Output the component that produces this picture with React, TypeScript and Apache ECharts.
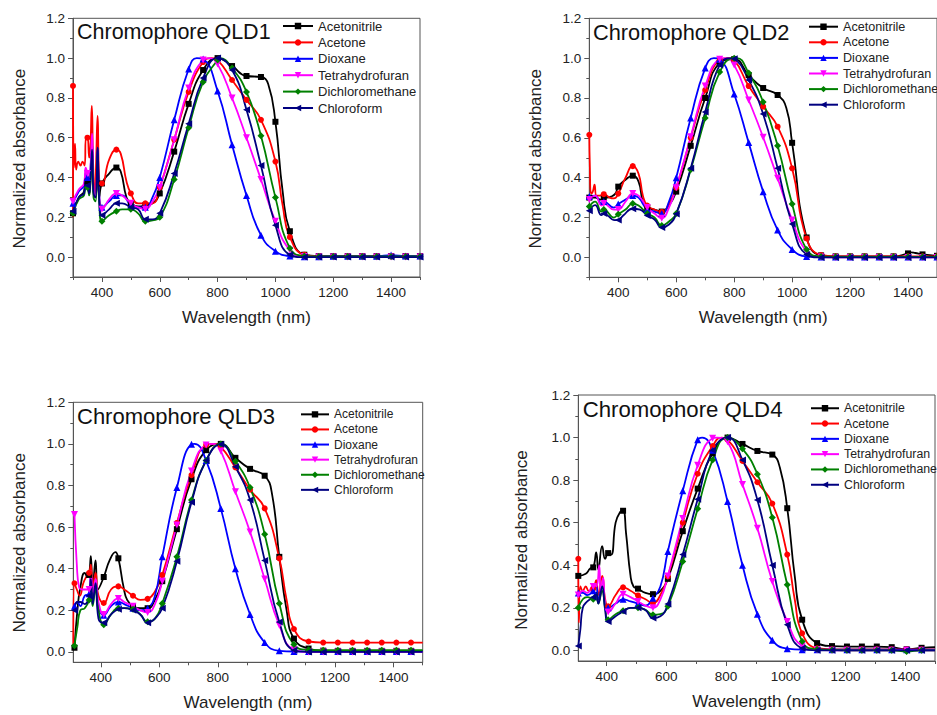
import React, { useEffect, useRef } from "react";
import * as echarts from "echarts";

// ---------- texts ----------
const solvents = ["Acetonitrile", "Acetone", "Dioxane", "Tetrahydrofuran", "Dichloromethane", "Chloroform"];
const chartTitles = ["Chromophore QLD1", "Chromophore QLD2", "Chromophore QLD3", "Chromophore QLD4"];
const xAxisName = "Wavelength (nm)";
const yAxisName = "Normalized absorbance";

// ---------- ticks ----------
const xTickLabels = [400, 600, 800, 1000, 1200, 1400];
const xMinorTicks = [300, 500, 700, 900, 1100, 1300, 1500];
const yTickLabels = [0, 0.2, 0.4, 0.6, 0.8, 1.0, 1.2];
const yMinorTicks = [-0.1, 0.1, 0.3, 0.5, 0.7, 0.9, 1.1];
const xMax = 1500;
const yMax = 1.2;

// ---------- marker wavelengths (nm) ----------
const wlQLD12 = [300, 350, 400, 450, 500, 550, 600, 650, 700, 750, 800, 850, 900, 950, 1000, 1050, 1100, 1150, 1200, 1250, 1300, 1350, 1400, 1450, 1500];
const wlQLD3 = [310, 360, 410, 460, 510, 560, 610, 660, 710, 760, 810, 860, 910, 960, 1010, 1060, 1110, 1160, 1210, 1260, 1310, 1360, 1410, 1460];
const wlQLD4 = [305, 355, 405, 455, 505, 555, 605, 655, 705, 755, 805, 855, 905, 955, 1005, 1055, 1105, 1155, 1205, 1255, 1305, 1355, 1405, 1455];

// ---------- QLD1 ----------
const q1Acetonitrile = [0.22, 0.38, 0.37, 0.45, 0.27, 0.26, 0.32, 0.53, 0.77, 0.94, 1.0, 0.96, 0.91, 0.905, 0.68, 0.13, 0.012, 0.005, 0.005, 0.005, 0.005, 0.005, 0.005, 0.005, 0.005];
const q1Acetone = [0.86, 0.6, 0.37, 0.54, 0.32, 0.27, 0.35, 0.59, 0.83, 0.98, 0.99, 0.89, 0.79, 0.69, 0.48, 0.1, 0.012, 0.004, 0.004, 0.004, 0.004, 0.004, 0.004, 0.004, 0.004];
const q1Dioxane = [0.27, 0.4, 0.25, 0.31, 0.26, 0.25, 0.4, 0.69, 0.945, 0.995, 0.835, 0.565, 0.31, 0.11, 0.03, 0.005, 0.002, 0.002, 0.004, 0.004, 0.004, 0.004, 0.01, 0.005, 0.005];
const q1THF = [0.28, 0.42, 0.24, 0.32, 0.27, 0.24, 0.35, 0.59, 0.85, 0.99, 0.97, 0.8, 0.6, 0.39, 0.18, 0.035, 0.003, 0, 0, 0, 0, 0, 0, 0, 0];
const q1DCM = [0.22, 0.35, 0.18, 0.23, 0.24, 0.18, 0.2, 0.39, 0.65, 0.88, 0.99, 0.95, 0.83, 0.61, 0.3, 0.045, 0.006, 0.003, 0.003, 0.003, 0.003, 0.003, 0.003, 0.003, 0.003];
const q1CHCl3 = [0.23, 0.36, 0.21, 0.27, 0.25, 0.19, 0.22, 0.42, 0.67, 0.9, 1.0, 0.94, 0.74, 0.46, 0.16, 0.012, 0, 0, 0, 0, 0, 0, 0, 0, 0];
// unmarked intermediate points [nm, value]
const q1AcetonitrileFine = [[320, 0.3], [338, 0.33], [344, 0.4], [356, 0.32], [362, 0.44], [366, 0.5], [371, 0.33], [378, 0.31], [385, 0.52], [391, 0.3], [425, 0.42], [465, 0.43], [485, 0.3], [525, 0.255], [575, 0.27], [975, 0.87], [1025, 0.33]];
const q1AcetoneFine = [[300, 0.2], [303, 0.45], [307, 0.57], [311, 0.44], [318, 0.48], [326, 0.46], [333, 0.48], [340, 0.46], [345, 0.6], [356, 0.5], [360, 0.55], [365, 0.76], [370, 0.45], [376, 0.3], [380, 0.48], [385, 0.71], [391, 0.38], [425, 0.49], [465, 0.52], [485, 0.38], [525, 0.27], [575, 0.27], [780, 1.0], [1025, 0.26]];
const q1DioxaneFine = [[320, 0.33], [338, 0.36], [344, 0.42], [356, 0.36], [362, 0.48], [366, 0.57], [371, 0.34], [378, 0.3], [385, 0.55], [391, 0.3], [425, 0.28], [470, 0.31], [525, 0.25], [575, 0.3], [728, 1.0]];
const q1THFFine = [[320, 0.34], [338, 0.37], [344, 0.45], [356, 0.36], [362, 0.5], [366, 0.62], [371, 0.35], [378, 0.3], [385, 0.5], [391, 0.3], [425, 0.29], [470, 0.31], [525, 0.25], [575, 0.28], [772, 1.0]];
const q1DCMFine = [[320, 0.29], [338, 0.31], [344, 0.36], [356, 0.31], [362, 0.42], [366, 0.5], [371, 0.3], [378, 0.28], [385, 0.5], [391, 0.27], [425, 0.21], [470, 0.24], [525, 0.22], [575, 0.185], [808, 1.0]];
const q1CHCl3Fine = [[320, 0.3], [338, 0.32], [344, 0.38], [356, 0.32], [362, 0.45], [366, 0.54], [371, 0.32], [378, 0.3], [385, 0.55], [391, 0.28], [425, 0.24], [470, 0.27], [525, 0.24], [575, 0.19]];

// ---------- QLD2 ----------
const q2Acetonitrile = [0.3, 0.296, 0.355, 0.41, 0.25, 0.23, 0.33, 0.56, 0.8, 0.975, 0.995, 0.915, 0.85, 0.815, 0.575, 0.1, 0.01, 0.005, 0.005, 0.005, 0.005, 0.005, 0.02, 0.015, 0.008];
const q2Acetone = [0.615, 0.317, 0.32, 0.458, 0.26, 0.228, 0.35, 0.6, 0.84, 0.99, 0.99, 0.86, 0.757, 0.656, 0.447, 0.095, 0.012, 0.005, 0.005, 0.005, 0.005, 0.005, 0.005, 0.005, 0.005];
const q2Dioxane = [0.305, 0.28, 0.268, 0.31, 0.24, 0.22, 0.4, 0.7, 0.95, 0.995, 0.82, 0.576, 0.33, 0.137, 0.04, 0.005, 0.002, 0.002, 0.002, 0.002, 0.002, 0.002, 0.002, 0.002, 0.002];
const q2THF = [0.29, 0.27, 0.24, 0.32, 0.25, 0.196, 0.35, 0.606, 0.86, 0.995, 0.966, 0.79, 0.603, 0.397, 0.188, 0.03, 0.002, 0, 0, 0, 0, 0, 0, 0, 0];
const q2DCM = [0.255, 0.24, 0.217, 0.27, 0.22, 0.16, 0.22, 0.44, 0.7, 0.93, 1.0, 0.925, 0.78, 0.56, 0.268, 0.04, 0.005, 0.003, 0.003, 0.003, 0.003, 0.003, 0.003, 0.003, 0.003];
const q2CHCl3 = [0.234, 0.22, 0.187, 0.244, 0.21, 0.15, 0.218, 0.447, 0.73, 0.966, 0.997, 0.89, 0.72, 0.447, 0.168, 0.015, 0, 0, 0, 0, 0, 0, 0, 0, 0];
const q2AcetonitrileFine = [[320, 0.3], [340, 0.29], [375, 0.305], [390, 0.32], [425, 0.39], [470, 0.38], [485, 0.28], [525, 0.24], [575, 0.26], [980, 0.75], [1410, 0.025], [1425, 0.022]];
const q2AcetoneFine = [[302, 0.45], [306, 0.32], [312, 0.33], [318, 0.365], [325, 0.31], [335, 0.31], [370, 0.3], [385, 0.296], [425, 0.4], [470, 0.42], [485, 0.31], [525, 0.24], [575, 0.27], [780, 1.0]];
const q2DioxaneFine = [[320, 0.31], [342, 0.27], [385, 0.25], [425, 0.29], [470, 0.3], [525, 0.23], [575, 0.28], [730, 1.0]];
const q2THFFine = [[320, 0.31], [342, 0.26], [385, 0.24], [425, 0.28], [470, 0.31], [525, 0.22], [575, 0.25], [772, 1.0]];
const q2DCMFine = [[320, 0.28], [342, 0.23], [385, 0.2], [425, 0.24], [470, 0.26], [525, 0.2], [575, 0.18], [810, 1.0]];
const q2CHCl3Fine = [[320, 0.262], [342, 0.212], [388, 0.187], [417, 0.21], [475, 0.24], [525, 0.19], [575, 0.165], [790, 1.0]];

// ---------- QLD3 ----------
const q3Acetonitrile = [0.02, 0.37, 0.36, 0.45, 0.22, 0.21, 0.34, 0.59, 0.83, 0.97, 1.0, 0.933, 0.88, 0.847, 0.457, 0.064, 0.016, 0.006, 0.005, 0.005, 0.005, 0.005, 0.005, 0.005];
const q3Acetone = [0.33, 0.38, 0.235, 0.315, 0.27, 0.255, 0.37, 0.62, 0.85, 0.995, 0.986, 0.887, 0.78, 0.69, 0.45, 0.11, 0.05, 0.045, 0.045, 0.045, 0.045, 0.045, 0.045, 0.045];
const q3Dioxane = [0.22, 0.28, 0.176, 0.24, 0.21, 0.21, 0.457, 0.79, 0.998, 0.92, 0.69, 0.4, 0.18, 0.045, 0.005, 0.002, 0.002, 0.002, 0.002, 0.002, 0.002, 0.002, 0.002, 0.002];
const q3THF = [0.66, 0.3, 0.18, 0.257, 0.22, 0.19, 0.34, 0.61, 0.87, 0.995, 0.966, 0.77, 0.577, 0.35, 0.128, 0.01, 0, 0, 0, 0, 0, 0, 0, 0];
const q3DCM = [0.03, 0.25, 0.13, 0.21, 0.205, 0.145, 0.233, 0.457, 0.73, 0.92, 1.0, 0.917, 0.79, 0.566, 0.233, 0.035, 0.01, 0.008, 0.008, 0.008, 0.008, 0.008, 0.008, 0.008];
const q3CHCl3 = [0.2, 0.27, 0.14, 0.205, 0.2, 0.14, 0.21, 0.436, 0.72, 0.92, 0.998, 0.89, 0.73, 0.44, 0.144, 0.008, 0, 0, 0, 0, 0, 0, 0, 0];
const q3AcetonitrileFine = [[320, 0.2], [330, 0.31], [345, 0.38], [355, 0.36], [366, 0.46], [372, 0.3], [382, 0.44], [390, 0.3], [430, 0.44], [450, 0.48], [478, 0.31], [490, 0.25], [535, 0.21], [585, 0.25], [985, 0.76], [1035, 0.2], [1500, 0.005]];
const q3AcetoneFine = [[306, 0.02], [318, 0.3], [328, 0.27], [340, 0.33], [350, 0.36], [366, 0.42], [372, 0.3], [382, 0.38], [392, 0.27], [435, 0.3], [480, 0.3], [535, 0.25], [585, 0.29], [785, 1.0], [1035, 0.25], [1500, 0.045]];
const q3DioxaneFine = [[320, 0.24], [330, 0.22], [345, 0.27], [366, 0.38], [372, 0.25], [382, 0.33], [392, 0.22], [435, 0.22], [480, 0.23], [535, 0.2], [585, 0.27], [720, 1.0], [1500, 0.002]];
const q3THFFine = [[318, 0.42], [326, 0.31], [336, 0.3], [348, 0.3], [366, 0.39], [372, 0.27], [382, 0.35], [392, 0.24], [435, 0.23], [480, 0.24], [535, 0.2], [585, 0.23], [785, 1.0], [1500, 0]];
const q3DCMFine = [[320, 0.12], [330, 0.2], [345, 0.21], [366, 0.33], [372, 0.22], [382, 0.3], [392, 0.2], [435, 0.18], [480, 0.21], [535, 0.18], [585, 0.16], [1500, 0.008]];
const q3CHCl3Fine = [[320, 0.24], [330, 0.24], [345, 0.23], [366, 0.35], [372, 0.23], [382, 0.33], [392, 0.16], [435, 0.18], [480, 0.21], [535, 0.18], [585, 0.16], [1500, 0]];

// ---------- QLD4 ----------
const q4Acetonitrile = [0.35, 0.39, 0.457, 0.656, 0.29, 0.264, 0.336, 0.56, 0.76, 0.926, 1.0, 0.97, 0.937, 0.92, 0.668, 0.144, 0.034, 0.02, 0.018, 0.018, 0.018, 0.015, 0.005, 0.012];
const q4Acetone = [0.43, 0.29, 0.207, 0.296, 0.258, 0.222, 0.347, 0.6, 0.83, 0.96, 0.99, 0.89, 0.79, 0.69, 0.45, 0.08, 0.01, 0.005, 0.005, 0.005, 0.005, 0.005, 0.005, 0.005];
const q4Dioxane = [0.27, 0.28, 0.2, 0.24, 0.22, 0.245, 0.465, 0.75, 0.99, 0.94, 0.7, 0.4, 0.17, 0.047, 0.008, 0.003, 0.003, 0.003, 0.003, 0.003, 0.003, 0.003, 0.003, 0.003];
const q4THF = [0.26, 0.3, 0.18, 0.264, 0.23, 0.2, 0.35, 0.62, 0.87, 0.997, 0.98, 0.78, 0.574, 0.324, 0.136, 0.02, 0.003, 0, 0, 0, 0, 0, 0, 0];
const q4DCM = [0.2, 0.24, 0.144, 0.186, 0.2, 0.167, 0.207, 0.418, 0.665, 0.895, 1.0, 0.947, 0.828, 0.624, 0.308, 0.042, 0.005, 0.002, 0, 0, 0, 0, -0.005, 0];
const q4CHCl3 = [0.02, 0.25, 0.136, 0.183, 0.2, 0.152, 0.218, 0.45, 0.71, 0.94, 1.0, 0.895, 0.707, 0.4, 0.12, 0.01, 0, 0, 0, 0, 0, 0, 0, 0];
const q4AcetonitrileFine = [[330, 0.36], [345, 0.385], [365, 0.46], [372, 0.38], [385, 0.49], [395, 0.43], [415, 0.45], [430, 0.6], [445, 0.65], [465, 0.55], [480, 0.35], [490, 0.3], [530, 0.27], [580, 0.28], [980, 0.86], [1030, 0.35], [1500, 0.015]];
const q4AcetoneFine = [[307, 0.13], [312, 0.3], [320, 0.28], [330, 0.3], [340, 0.28], [365, 0.33], [372, 0.26], [385, 0.35], [395, 0.24], [430, 0.26], [480, 0.28], [530, 0.24], [580, 0.26], [785, 1.0], [1030, 0.24], [1500, 0.005]];
const q4DioxaneFine = [[320, 0.27], [335, 0.26], [365, 0.3], [372, 0.24], [385, 0.3], [395, 0.22], [430, 0.22], [480, 0.23], [530, 0.21], [580, 0.3], [720, 1.0], [1500, 0.003]];
const q4THFFine = [[320, 0.28], [335, 0.27], [365, 0.3], [375, 0.4], [380, 0.27], [388, 0.34], [395, 0.22], [430, 0.22], [480, 0.25], [530, 0.21], [580, 0.24], [770, 1.0], [1500, 0]];
const q4DCMFine = [[320, 0.24], [335, 0.25], [365, 0.27], [372, 0.22], [385, 0.28], [395, 0.2], [430, 0.17], [480, 0.2], [530, 0.19], [580, 0.17], [1500, 0]];
const q4CHCl3Fine = [[312, 0.1], [320, 0.2], [335, 0.23], [365, 0.27], [372, 0.22], [385, 0.3], [395, 0.19], [430, 0.16], [480, 0.2], [530, 0.19], [580, 0.16], [1500, 0]];

const panelData = [
  { wl: wlQLD12, values: [q1Acetonitrile, q1Acetone, q1Dioxane, q1THF, q1DCM, q1CHCl3], fine: [q1AcetonitrileFine, q1AcetoneFine, q1DioxaneFine, q1THFFine, q1DCMFine, q1CHCl3Fine] },
  { wl: wlQLD12, values: [q2Acetonitrile, q2Acetone, q2Dioxane, q2THF, q2DCM, q2CHCl3], fine: [q2AcetonitrileFine, q2AcetoneFine, q2DioxaneFine, q2THFFine, q2DCMFine, q2CHCl3Fine] },
  { wl: wlQLD3, values: [q3Acetonitrile, q3Acetone, q3Dioxane, q3THF, q3DCM, q3CHCl3], fine: [q3AcetonitrileFine, q3AcetoneFine, q3DioxaneFine, q3THFFine, q3DCMFine, q3CHCl3Fine] },
  { wl: wlQLD4, values: [q4Acetonitrile, q4Acetone, q4Dioxane, q4THF, q4DCM, q4CHCl3], fine: [q4AcetonitrileFine, q4AcetoneFine, q4DioxaneFine, q4THFFine, q4DCMFine, q4CHCl3Fine] },
];

// ---------- styles / layout ----------
const FONT = "'Liberation Sans', Arial, Helvetica, sans-serif";
const seriesColors = ["#000000", "#ff0000", "#0000ff", "#ff00ff", "#008000", "#000080"];
const symbolTypes = ["rect", "circle", "triangle", "triangle", "diamond", "triangle"];
const symbolRotations = [0, 0, 0, 180, 0, 90];
const symbolSizes = [6, 6, 7, 7, 7, 7];

const panels = [
  { left: 73, top: 18.3, width: 347, height: 258.7, xMin: 300, yMin: -0.1, titleLeft: 77, titleTop: 21, titleSize: 21.5, legendLeft: 282, legendTop: 17.8, legendFont: 13, legendLine: 16.4, legendIconW: 30, yNameGap: 45.5, yNameShift: 22 },
  { left: 589.3, top: 18.3, width: 348.5, height: 259, xMin: 300, yMin: -0.1, titleLeft: 593, titleTop: 21, titleSize: 21.8, legendLeft: 808, legendTop: 18.9, legendFont: 12.6, legendLine: 15.6, legendIconW: 29, yNameGap: 45.5, yNameShift: 22 },
  { left: 73.3, top: 402.3, width: 349.4, height: 260, xMin: 306, yMin: -0.05, titleLeft: 77, titleTop: 405.7, titleSize: 22, legendLeft: 300, legendTop: 406.8, legendFont: 12, legendLine: 15.1, legendIconW: 28, yNameGap: 45.5, yNameShift: 21 },
  { left: 578.3, top: 395, width: 356.7, height: 266, xMin: 305, yMin: -0.05, titleLeft: 582.7, titleTop: 398, titleSize: 22.2, legendLeft: 810, legendTop: 400.6, legendFont: 12.3, legendLine: 15.3, legendIconW: 28, yNameGap: 48, yNameShift: 24 },
];

function buildPoints(wl: number[], vals: number[], fine: number[][]) {
  const pts = [
    ...fine.map(([x, y]) => ({ x, y, mark: false })),
    ...wl.map((x, k) => ({ x, y: vals[k], mark: true })),
  ];
  pts.sort((a, b) => a.x - b.x || (a.mark ? 1 : 0) - (b.mark ? 1 : 0));
  return pts.map((p) => (p.mark ? { value: [p.x, p.y] } : { value: [p.x, p.y], symbol: "none" }));
}

function buildOption() {
  const axisColor = "#555";
  const textColor = "#222";
  const grid: any[] = [];
  const xAxis: any[] = [];
  const yAxis: any[] = [];
  const series: any[] = [];
  const legend: any[] = [];
  const title: any[] = [];

  panels.forEach((p, i) => {
    grid.push({ left: p.left, top: p.top, width: p.width, height: p.height, show: true, borderColor: axisColor, borderWidth: 1, containLabel: false });
    const xMinor = xMinorTicks.filter((v) => v >= p.xMin && v <= xMax);
    const yMinor = yMinorTicks.filter((v) => v >= p.yMin && v <= yMax);
    xAxis.push({
      type: "value", gridIndex: i, min: p.xMin, max: xMax, position: "bottom",
      axisLine: { show: true, onZero: false, lineStyle: { color: axisColor, width: 1 } },
      axisTick: { show: true, length: 5, customValues: xTickLabels, lineStyle: { color: axisColor } },
      axisLabel: { customValues: xTickLabels, fontSize: 13.5, color: textColor, margin: 8, fontFamily: FONT, formatter: (v: number) => String(Math.round(v)) },
      splitLine: { show: false },
      name: xAxisName, nameLocation: "middle", nameGap: 32,
      nameTextStyle: { fontSize: 17, color: textColor, fontFamily: FONT },
    });
    xAxis.push({
      type: "value", gridIndex: i, min: p.xMin, max: xMax, position: "bottom",
      axisLine: { show: false, onZero: false },
      axisTick: { show: true, length: 3, customValues: xMinor, lineStyle: { color: axisColor } },
      axisLabel: { show: false },
      splitLine: { show: false },
    });
    yAxis.push({
      type: "value", gridIndex: i, min: p.yMin, max: yMax, position: "left",
      axisLine: { show: true, onZero: false, lineStyle: { color: axisColor, width: 1 } },
      axisTick: { show: true, length: 5, customValues: yTickLabels, lineStyle: { color: axisColor } },
      axisLabel: { customValues: yTickLabels, fontSize: 13.5, color: textColor, margin: 8, fontFamily: FONT, formatter: (v: number) => v.toFixed(1) },
      splitLine: { show: false },
      name: yAxisName, nameLocation: "middle", nameGap: p.yNameGap,
      nameTextStyle: { fontSize: 17, color: textColor, fontFamily: FONT, padding: [0, p.yNameShift, 0, 0] },
    });
    yAxis.push({
      type: "value", gridIndex: i, min: p.yMin, max: yMax, position: "left",
      axisLine: { show: false, onZero: false },
      axisTick: { show: true, length: 3, customValues: yMinor, lineStyle: { color: axisColor } },
      axisLabel: { show: false },
      splitLine: { show: false },
    });

    const d = panelData[i];
    solvents.forEach((name, j) => {
      series.push({
        type: "line", name, xAxisIndex: 2 * i, yAxisIndex: 2 * i,
        data: buildPoints(d.wl, d.values[j], d.fine[j]),
        smooth: 0.5,
        symbol: symbolTypes[j], symbolRotate: symbolRotations[j], symbolSize: symbolSizes[j],
        showAllSymbol: true,
        lineStyle: { width: 1.8, color: seriesColors[j] },
        itemStyle: { color: seriesColors[j] },
        emphasis: { disabled: true },
      });
    });

    legend.push({
      orient: "vertical", left: p.legendLeft, top: p.legendTop, padding: 0, itemGap: 0,
      itemWidth: p.legendIconW, itemHeight: 8, selectedMode: false,
      textStyle: { fontSize: p.legendFont, lineHeight: p.legendLine, color: textColor, fontFamily: FONT },
      data: solvents,
    });

    title.push({
      text: chartTitles[i], left: p.titleLeft, top: p.titleTop, padding: 0,
      textStyle: { fontSize: p.titleSize, fontWeight: "normal", color: "#111", fontFamily: FONT },
    });
  });

  return { animation: false, backgroundColor: "#ffffff", title, legend, grid, xAxis, yAxis, series };
}

export default function App() {
  const ref = useRef<HTMLDivElement>(null);
  useEffect(() => {
    if (!ref.current) return;
    const chart = echarts.init(ref.current, null, { renderer: "svg" });
    chart.setOption(buildOption() as any);
    return () => chart.dispose();
  }, []);
  return (
    <div
      ref={ref}
      style={{ position: "fixed", left: 0, top: 0, width: 937, height: 715, background: "#fff" }}
    />
  );
}
